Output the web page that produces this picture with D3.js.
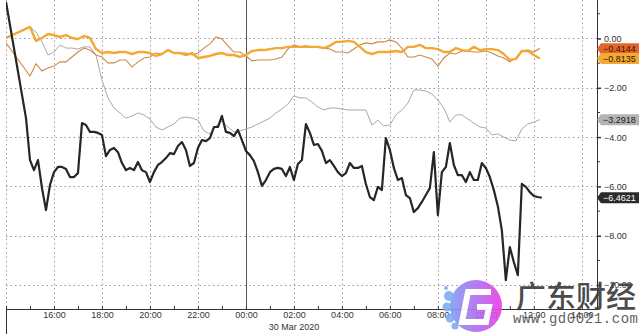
<!DOCTYPE html>
<html>
<head>
<meta charset="utf-8">
<script src="https://cdn.jsdelivr.net/npm/d3@7"></script>
<style>
body { margin: 0; background: #fff; }
svg { display: block; }
.ax text { font-family: "Liberation Sans", Arial, sans-serif; font-size: 9px; fill: #333; }
</style>
</head>
<body>
<div id="chart"></div>
<script>
var W = 640, H = 334;
var plot = {left: 6, right: 597, top: 0, bottom: 309};

// time axis: 29 Mar 14:00 -> 30 Mar ~14:38 (UTC used so the sandbox zone doesn't matter)
var t0 = Date.UTC(2020, 2, 29, 14, 0),
    tEnd = Date.UTC(2020, 2, 30, 14, 38);
var blackStep = 10, lineStep = 15; // minutes between points

// black series, 10 min steps (null = no print)
var blackVals = [1.48, null, null, null, null, -3.23, -4.93, -5.34, -4.93, -6.07,
  -6.96, -5.94, -5.42, -5.21, -5.21, -5.29, -5.62, -5.62, -5.46, -3.43,
  -3.51, -3.79, -3.79, -3.83, -3.91, -4.77, -4.52, -4.44, -4.61, -5.05,
  -5.34, -5.25, -5.34, -5.01, -5.34, -5.42, -5.82, -5.42, -5.13, -5.01,
  -4.85, -4.65, -4.69, -4.36, -4.20, -4.52, -5.17, -5.05, -4.44, -4.12,
  -4.16, -4.04, -3.59, -3.59, -3.14, -3.79, -3.83, -3.96, -3.71, -4.12,
  -4.56, -4.73, -4.97, -5.42, -5.98, -5.74, -5.42, -5.29, -5.25, -5.29,
  -5.58, -5.21, -5.74, -5.09, -4.93, -3.47, -3.83, -4.32, -4.28, -4.56,
  -5.05, -4.93, -5.17, -5.42, -5.58, -5.46, -5.05, -5.25, -5.25, -5.17,
  -5.90, -6.43, -6.55, -6.02, -6.15, -4.04, -4.52, -5.25, -5.74, -5.66,
  -6.35, -6.47, -7.04, -6.88, -6.63, -6.35, -6.07, -4.61, -7.16, -5.42,
  -5.21, -4.24, -5.13, -5.54, -5.54, -5.82, -5.42, -5.74, -5.74, -5.05,
  -5.25, -5.62, -6.15, -6.80, -7.77, -9.80, -8.46, -9.07, -9.60, -5.90,
  -6.02, -6.23, -6.39, -6.43, -6.46];

// 15 min steps
var grayVals = [0, null, null, null, 0.47, 0.26, -0.14, -0.67, -0.55, -0.26,
  -0.39, -0.39, -0.43, -0.34, -0.34, -0.67, -1.68, -2.41, -2.82, -3.02,
  -3.23, -3.14, -3.02, -3.10, -3.27, -3.59, -3.71, -3.59, -3.47, -3.23,
  -3.19, -3.23, -3.31, -3.75, -3.87, -3.55, -3.35, -3.59, -3.79, -3.75,
  -3.67, -3.59, -3.47, -3.35, -3.23, -3.02, -2.86, -2.66, -2.33, -2.41,
  -2.41, -2.58, -2.78, -2.90, -2.82, -2.82, -2.86, -2.90, -2.90, -2.90,
  -2.90, -3.51, -3.31, -3.55, -3.51, -3.10, -2.90, -2.62, -2.09, -2.09,
  -2.13, -2.25, -2.50, -2.82, -3.39, -3.10, -3.10, -3.27, -3.43, -3.59,
  -3.63, -3.91, -3.87, -4.00, -4.12, -4.16, -3.67, -3.47, -3.39, -3.29];

var amberVals = [0.02, null, null, null, 0.47, -0.10, 0.02, 0.18, 0.14, 0.06,
  0.14, 0.02, -0.02, 0.10, 0.02, -0.43, -0.59, -0.55, -0.59, -0.55,
  -0.55, -0.63, -0.55, -0.55, -0.59, -0.71, -0.63, -0.47, -0.59, -0.59,
  -0.67, -0.59, -0.79, -0.75, -0.71, -0.63, -0.59, -0.67, -0.67, -0.75,
  -0.67, -0.51, -0.47, -0.47, -0.43, -0.39, -0.39, -0.34, -0.34, -0.34,
  -0.34, -0.34, -0.34, -0.39, -0.30, -0.14, -0.14, -0.10, -0.14, -0.34,
  -0.55, -0.63, -0.55, -0.55, -0.55, -0.51, -0.55, -0.34, -0.34, -0.26,
  -0.39, -0.39, -0.43, -0.55, -0.55, -0.39, -0.47, -0.51, -0.34, -0.47,
  -0.43, -0.43, -0.47, -0.63, -0.87, -0.83, -0.51, -0.51, -0.67, -0.81];

var brownVals = [-0.18, null, null, null, -1.52, -1.03, -1.32, -1.20, -1.12, -0.95,
  -0.95, -0.75, -0.55, -0.39, -0.47, -0.67, -0.75, -0.99, -0.99, -0.87,
  -0.87, -1.16, -0.95, -0.79, -0.75, -0.59, -0.63, -0.47, -0.59, -0.59,
  -0.59, -0.67, -0.59, -0.39, -0.22, 0.06, -0.02, -0.30, -0.55, -0.55,
  -0.71, -0.91, -0.87, -0.87, -0.87, -0.83, -0.75, -0.43, -0.26, -0.34,
  -0.30, -0.34, -0.34, -0.39, -0.43, -0.55, -0.55, -0.59, -0.43, -0.26,
  -0.18, -0.22, -0.14, -0.14, -0.06, -0.14, -0.39, -0.75, -0.75, -0.67,
  -0.75, -0.83, -1.12, -0.79, -0.59, -0.63, -0.51, -0.51, -0.55, -0.55,
  -0.51, -0.59, -0.71, -0.79, -0.95, -0.79, -0.51, -0.47, -0.55, -0.41];

var lastVals = [-0.4144, -0.8135, -3.2918, -6.4621];
var yTicks = [0, -2, -4, -6, -8, -10];
var yMinor = [1, -1, -3, -5, -7, -9];
var dateLabel = "30 Mar 2020";

var svg = d3.select("#chart").append("svg")
    .attr("width", W)
    .attr("height", H);

var x = d3.scaleUtc().domain([t0, tEnd]).range([plot.left, plot.right]);
var y = d3.scaleLinear().domain([-10.97, 1.56]).range([plot.bottom, plot.top]);

function series(vals, step) {
  return vals.map(function(v, i) { return {t: t0 + i * step * 60000, v: v}; })
             .filter(function(d) { return d.v !== null; });
}

var hours2 = d3.utcHour.every(2).range(new Date(t0), new Date(tEnd));
var hours1 = d3.utcHour.every(1).range(new Date(t0), new Date(tEnd));
var midnight = Date.UTC(2020, 2, 30, 0, 0);

svg.append("defs").append("clipPath")
    .attr("id", "clip")
  .append("rect")
    .attr("x", plot.left).attr("y", plot.top)
    .attr("width", plot.right - plot.left)
    .attr("height", plot.bottom - plot.top);

// grid
var grid = svg.append("g");
grid.selectAll(".hg")
  .data(yTicks)
  .enter().append("line")
    .attr("x1", plot.left).attr("x2", plot.right)
    .attr("y1", function(d) { return Math.round(y(d)) + 0.5; })
    .attr("y2", function(d) { return Math.round(y(d)) + 0.5; })
    .attr("stroke", "#9a9a9a")
    .attr("stroke-dasharray", "1.5,3");

grid.selectAll(".vg")
  .data(hours2)
  .enter().append("line")
    .attr("x1", function(d) { return Math.round(x(d)) + 0.5; })
    .attr("x2", function(d) { return Math.round(x(d)) + 0.5; })
    .attr("y1", plot.top).attr("y2", plot.bottom)
    .attr("stroke", function(d) { return +d === midnight ? "#555" : "#9a9a9a"; })
    .attr("stroke-dasharray", function(d) { return +d === midnight ? null : "1.5,3"; });

// bottom axis
var xAxis = d3.axisBottom(x)
    .tickValues(hours1)
    .tickSizeInner(-3)
    .tickSizeOuter(0)
    .tickPadding(3)
    .tickFormat(function(d) {
      return (d.getUTCHours() % 2 === 0 && +d !== t0) ? d3.utcFormat("%H:%M")(d) : "";
    });

var gx = svg.append("g")
    .attr("class", "ax")
    .attr("transform", "translate(0," + plot.bottom + ")")
    .call(xAxis);
gx.select(".domain").attr("stroke", "#333");
gx.selectAll(".tick line").attr("stroke", "#333");

svg.append("line")
    .attr("x1", plot.left + 0.5).attr("x2", plot.left + 0.5)
    .attr("y1", plot.bottom).attr("y2", H)
    .attr("stroke", "#333");

svg.append("text")
    .attr("class", "ax")
    .attr("x", x(Date.UTC(2020, 2, 30, 2, 0)))
    .attr("y", 330)
    .attr("text-anchor", "middle")
    .style("font-family", '"Liberation Sans", Arial, sans-serif')
    .style("font-size", "9px")
    .style("fill", "#333")
    .text(dateLabel);

// right axis
var yAxis = d3.axisRight(y)
    .tickValues(yTicks)
    .tickSize(4)
    .tickPadding(3)
    .tickFormat(d3.format(".2f"));

var gy = svg.append("g")
    .attr("class", "ax")
    .attr("transform", "translate(" + plot.right + ",0)")
    .call(yAxis);
gy.select(".domain").remove();
gy.selectAll(".tick line").attr("stroke", "#333").attr("stroke-width", 1.5);

gy.selectAll(".minor")
  .data(yMinor)
  .enter().append("line")
    .attr("x1", 0).attr("x2", 3)
    .attr("y1", function(d) { return y(d); })
    .attr("y2", function(d) { return y(d); })
    .attr("stroke", "#333");

svg.append("line")
    .attr("x1", plot.right + 0.5).attr("x2", plot.right + 0.5)
    .attr("y1", plot.top).attr("y2", plot.bottom)
    .attr("stroke", "#333");

// lines
var line = d3.line()
    .x(function(d) { return x(d.t); })
    .y(function(d) { return y(d.v); });

var lines = svg.append("g").attr("clip-path", "url(#clip)");

lines.append("path")
    .datum(series(grayVals, lineStep))
    .attr("fill", "none")
    .attr("stroke", "#a9a9a9")
    .attr("stroke-width", 1)
    .attr("d", line);

lines.append("path")
    .datum(series(brownVals, lineStep))
    .attr("fill", "none")
    .attr("stroke", "#cd8848")
    .attr("stroke-width", 1.1)
    .attr("d", line);

lines.append("path")
    .datum(series(amberVals, lineStep))
    .attr("fill", "none")
    .attr("stroke", "#f2a833")
    .attr("stroke-width", 2.4)
    .attr("stroke-linejoin", "round")
    .attr("d", line);

lines.append("path")
    .datum(series(blackVals, blackStep))
    .attr("fill", "none")
    .attr("stroke", "#262626")
    .attr("stroke-width", 2.2)
    .attr("stroke-linejoin", "round")
    .attr("d", line);

// last value tags
var tagColors = [
  {bg: "#e4652a", fg: "#3a1a08"},
  {bg: "#f5a833", fg: "#2a1a00"},
  {bg: "#b3b3b3", fg: "#222"},
  {bg: "#2b2b2b", fg: "#fff"}
];

var tags = svg.selectAll(".tag")
  .data(lastVals)
  .enter().append("g")
    .attr("transform", function(d) { return "translate(" + plot.right + "," + y(d) + ")"; });

tags.append("path")
    .attr("d", "M0,0L4,-5.5L42,-5.5L42,5.5L4,5.5Z")
    .attr("fill", function(d, i) { return tagColors[i].bg; });

tags.append("text")
    .attr("x", 6)
    .attr("dy", "0.35em")
    .style("font-family", '"Liberation Sans", Arial, sans-serif')
    .style("font-size", "9px")
    .style("fill", function(d, i) { return tagColors[i].fg; })
    .text(function(d) { return d3.format(".4f")(d); });

// watermark
var wm = svg.append("g").attr("opacity", 0.92);
var grad = svg.select("defs").append("linearGradient")
    .attr("id", "wmg").attr("x1", 0).attr("x2", 1).attr("y1", 0).attr("y2", 0);
grad.append("stop").attr("offset", "0%").attr("stop-color", "#7fa2f2");
grad.append("stop").attr("offset", "55%").attr("stop-color", "#b46cf0");
grad.append("stop").attr("offset", "100%").attr("stop-color", "#ee3fe6");

[[449, 296, 5], [447, 307, 4.5], [450, 318, 4.5], [455, 326, 3.5], [446, 288, 2]].forEach(function(c) {
  wm.append("circle").attr("cx", c[0]).attr("cy", c[1]).attr("r", c[2]).attr("fill", "#7fb0f0");
});
wm.append("circle").attr("cx", 476).attr("cy", 306).attr("r", 26).attr("fill", "url(#wmg)");
wm.append("path")
    .attr("d", "M491,292L468,292L462,322L486,322L489,307L477,307")
    .attr("fill", "none")
    .attr("stroke", "#fff")
    .attr("stroke-width", 6)
    .attr("stroke-linejoin", "miter");

wm.append("text")
    .attr("x", 516).attr("y", 307)
    .style("font-family", '"Noto Sans CJK SC", sans-serif')
    .style("font-size", "30px")
    .style("font-weight", 500)
    .style("fill", "#3d3d3d")
    .text("广东财经");

wm.append("text")
    .attr("x", 513).attr("y", 323)
    .attr("textLength", 125)
    .style("font-family", '"Liberation Mono", monospace')
    .style("font-size", "14px")
    .style("fill", "#555")
    .text("www.gd0021.com");
</script>
</body>
</html>
